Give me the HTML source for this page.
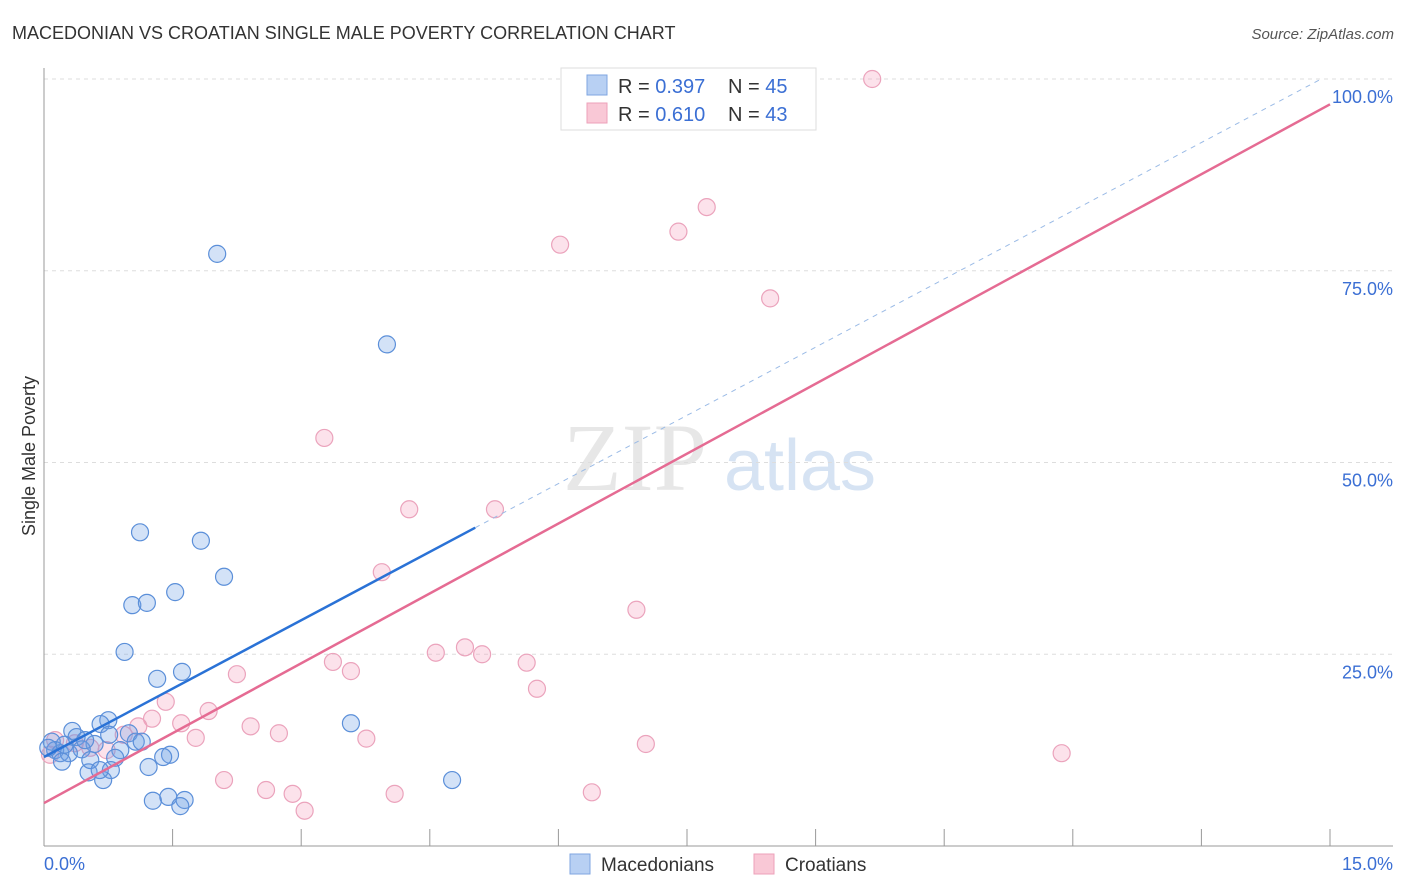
<!DOCTYPE html>
<html><head><meta charset="utf-8"><style>
body{margin:0;background:#fff;font-family:"Liberation Sans",sans-serif;}
svg{display:block}
</style></head><body>
<svg id="chart" width="1406" height="892" xmlns="http://www.w3.org/2000/svg">
<text x="12" y="39" font-size="18" fill="#333">MACEDONIAN VS CROATIAN SINGLE MALE POVERTY CORRELATION CHART</text>
<text x="1394" y="39" font-size="15" fill="#555" font-style="italic" text-anchor="end">Source: ZipAtlas.com</text>
<g>
<text x="635" y="490" font-size="96" fill="#d8d8d8" font-family="Liberation Serif,serif" text-anchor="middle" opacity="0.6">ZIP</text>
<text x="800" y="490" font-size="72" fill="#c5d8ef" text-anchor="middle" opacity="0.7">atlas</text>
</g>
<g id="grid"></g>
<g id="axes"></g>
<text transform="translate(35,456) rotate(-90)" font-size="18" fill="#333" text-anchor="middle">Single Male Poverty</text>
<g id="pts"></g>
<g id="lines"></g>
<g>
<rect x="561" y="68" width="255" height="62" fill="#fff" stroke="#ddd"/>
<rect x="587" y="75" width="20" height="20" fill="#b8d0f3" stroke="#7fa6e0"/>
<rect x="587" y="103" width="20" height="20" fill="#f9c8d6" stroke="#eda1ba"/>
<text x="618" y="93" font-size="20" fill="#333">R = <tspan fill="#3b6fd4">0.397</tspan></text>
<text x="728" y="93" font-size="20" fill="#333">N = <tspan fill="#3b6fd4">45</tspan></text>
<text x="618" y="121" font-size="20" fill="#333">R = <tspan fill="#3b6fd4"> 0.610</tspan></text>
<text x="728" y="121" font-size="20" fill="#333">N = <tspan fill="#3b6fd4">43</tspan></text>
</g>
<g>
<rect x="570" y="854" width="20" height="20" fill="#b8d0f3" stroke="#7fa6e0"/>
<text x="601" y="871" font-size="19" fill="#333">Macedonians</text>
<rect x="754" y="854" width="20" height="20" fill="#f9c8d6" stroke="#eda1ba"/>
<text x="785" y="871" font-size="19" fill="#333">Croatians</text>
</g>
</svg>
<script>
const xTicks=[0,1.5,3,4.5,6,7.5,9,10.5,12,13.5,15];
const yTicks=[25,50,75,100];
const yTickLabels=["25.0%","50.0%","75.0%","100.0%"];
const xEndLabels=["0.0%","15.0%"];
const macX=[2.02,4.00,1.12,1.83,2.10,1.03,1.20,1.53,0.94,1.61,1.32,0.75,0.66,0.33,0.38,0.76,0.99,0.09,0.59,1.07,1.14,0.44,0.13,0.19,0.29,0.89,1.47,1.39,0.21,0.83,1.22,0.52,0.78,0.69,1.27,1.45,1.64,1.59,3.58,4.76,0.05,0.48,0.24,0.54,0.65];
const macY=[77.2,65.4,40.9,39.8,35.1,31.4,31.7,33.1,25.3,22.7,21.8,16.4,15.9,15.0,14.2,14.5,14.7,13.6,13.3,13.6,13.6,12.6,12.5,12.1,12.1,12.5,11.9,11.6,11.0,11.5,10.3,9.6,9.9,8.6,5.9,6.4,6.0,5.2,16.0,8.6,12.8,13.8,13.2,11.2,9.9];
const croX=[6.28,8.84,9.66,7.73,7.40,6.02,8.47,3.27,4.26,5.26,3.94,6.91,4.91,4.57,5.11,3.37,5.63,3.58,2.25,5.75,1.42,1.92,1.26,1.10,1.60,2.41,2.74,1.77,3.76,7.02,11.87,0.93,0.73,0.36,0.13,0.07,2.10,2.59,2.90,4.09,6.39,3.04,0.54];
const croY=[100,99.9,100,83.3,80.1,78.4,71.4,53.2,43.9,43.9,35.7,30.8,25.9,25.2,25.0,24.0,23.9,22.8,22.4,20.5,18.8,17.6,16.6,15.6,16.0,15.6,14.7,14.1,14.0,13.3,12.1,14.5,12.5,13.4,13.8,11.9,8.6,7.3,6.8,6.8,7.0,4.6,12.8];
const macLine=[[0,11.6],[5.03,41.5],[15,100.7]];
const croLine=[[0,5.6],[15,96.7]];
const X=v=>44+v*(1286/15), Y=v=>846-v*7.67;
const NS="http://www.w3.org/2000/svg";
function mk(t,a,p){const e=document.createElementNS(NS,t);for(const k in a)e.setAttribute(k,a[k]);p.appendChild(e);return e;}
const grid=document.getElementById('grid'),axes=document.getElementById('axes');
yTicks.forEach((t,i)=>{
 const l=mk('line',{x1:44,x2:1393,y1:Y(t),y2:Y(t),stroke:'#ddd','stroke-dasharray':'4,4'},grid);
 
 
 const tx=mk('text',{x:1393,y:Y(t)+24,'font-size':18,fill:'#3b6fd4','text-anchor':'end'},axes);
 tx.textContent=yTickLabels[i];
 
 
});
mk('line',{x1:44,x2:44,y1:68,y2:846,stroke:'#999'},axes);
mk('line',{x1:44,x2:1393,y1:846,y2:846,stroke:'#999'},axes);
xTicks.forEach(t=>{
 const l=mk('line',{x1:X(t),x2:X(t),y1:829,y2:846,stroke:'#999'},axes);
 
 
});
[[44,'start',0],[1393,'end',1]].forEach(([x,a,i])=>{
 const tx=mk('text',{x:x,y:870,'font-size':18,fill:'#3b6fd4','text-anchor':a},axes);
 tx.textContent=xEndLabels[i];
 
 
});
const pts=document.getElementById('pts');
croX.forEach((x,i)=>{
 const c=mk('circle',{cx:X(x),cy:Y(croY[i]),r:8.5,fill:'rgba(245,160,190,0.3)',stroke:'#eba3bc','stroke-width':1.2},pts);
 
 
});
macX.forEach((x,i)=>{
 const c=mk('circle',{cx:X(x),cy:Y(macY[i]),r:8.5,fill:'rgba(110,160,230,0.3)',stroke:'#5b8fd9','stroke-width':1.2},pts);
 
 
});
const lines=document.getElementById('lines');
const bl=mk('line',{x1:X(macLine[0][0]),y1:Y(macLine[0][1]),x2:X(macLine[1][0]),y2:Y(macLine[1][1]),stroke:'#2a72d6','stroke-width':2.5},lines);


const bd=mk('line',{x1:X(macLine[1][0]),y1:Y(macLine[1][1]),x2:X(macLine[2][0])-10,y2:Y(macLine[2][1])+6,stroke:'#9bbbe6','stroke-width':1,'stroke-dasharray':'5,5'},lines);


const pl=mk('line',{x1:X(croLine[0][0]),y1:Y(croLine[0][1]),x2:X(croLine[1][0]),y2:Y(croLine[1][1]),stroke:'#e56b93','stroke-width':2.5},lines);


</script>
</body></html>
